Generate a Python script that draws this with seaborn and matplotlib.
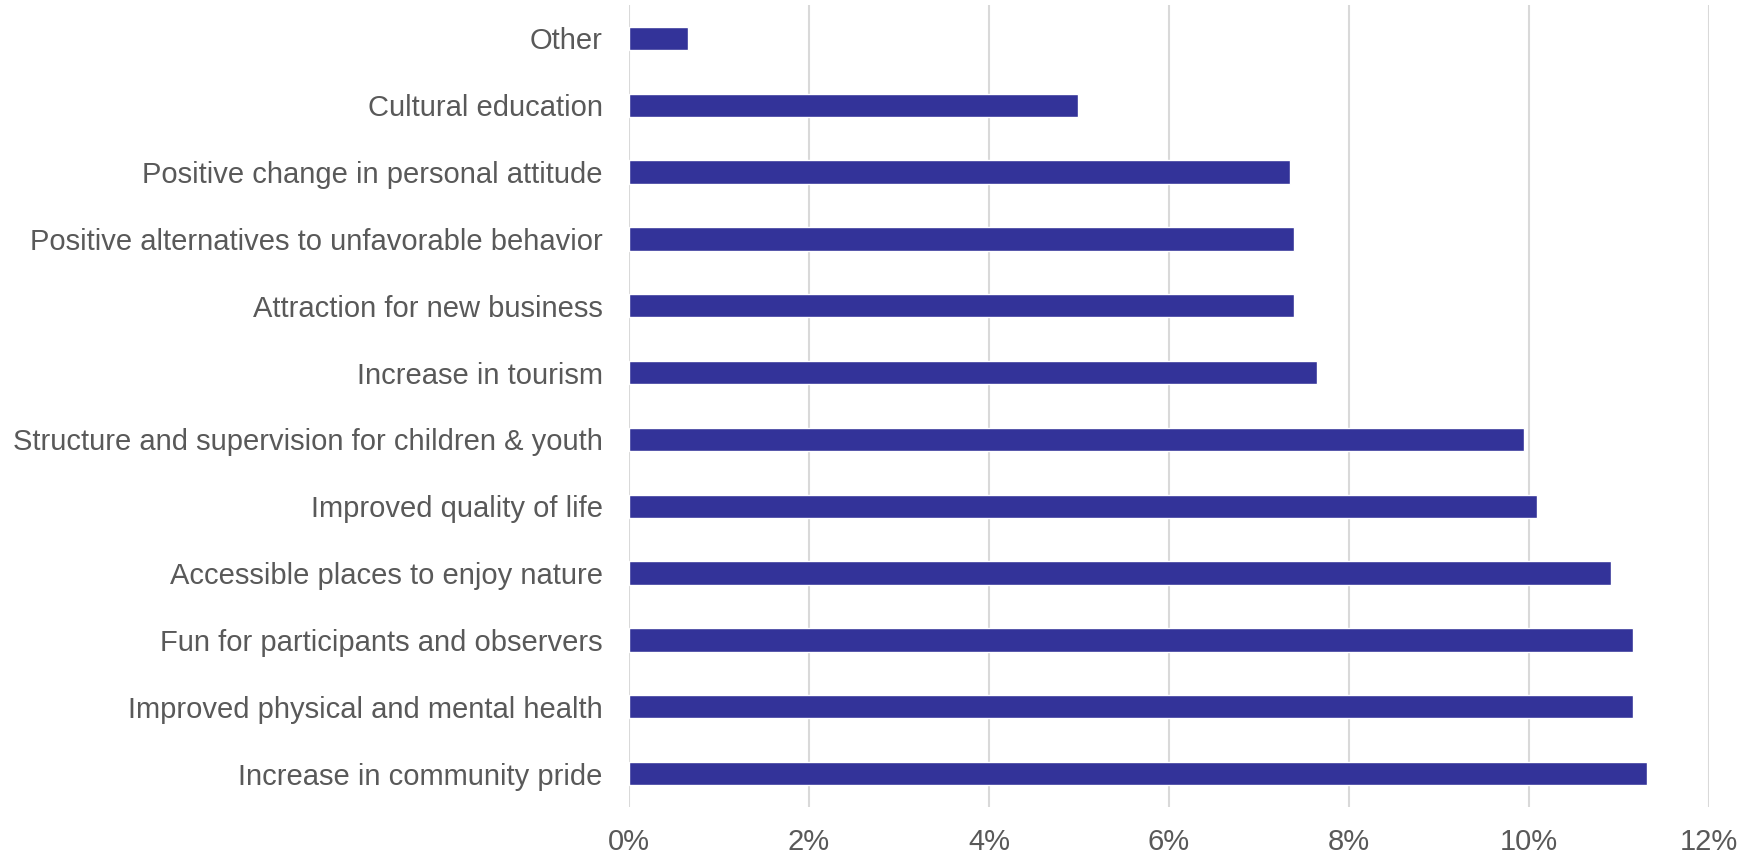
import pandas as pd
import matplotlib.pyplot as plt
import seaborn as sns

# Benefits, top to bottom as shown
categories = [
    "Other",
    "Cultural education",
    "Positive change in personal attitude",
    "Positive alternatives to unfavorable behavior",
    "Attraction for new business",
    "Increase in tourism",
    "Structure and supervision for children & youth",
    "Improved quality of life",
    "Accessible places to enjoy nature",
    "Fun for participants and observers",
    "Improved physical and mental health",
    "Increase in community pride",
]
percent = [0.66, 4.99, 7.34, 7.39, 7.39, 7.64, 9.94, 10.09, 10.91, 11.16, 11.16, 11.31]
x_ticks = [0, 2, 4, 6, 8, 10, 12]
x_tick_labels = [f"{t}%" for t in x_ticks]

df = pd.DataFrame({"Benefit": categories, "Percent": percent})

sns.set_style("white")
plt.rcParams['font.family'] = ['Liberation Sans', 'DejaVu Sans']

text_color = "#595959"
bar_color = "#333399"

fig = plt.figure(figsize=(17.52, 8.55), dpi=100)
ax = fig.add_axes([0.359, 0.0561, 0.6165, 0.9381])

sns.barplot(data=df, x="Percent", y="Benefit", orient="h", color=bar_color,
            saturation=1, width=0.35, ax=ax, zorder=3)

ax.set_xlim(0, 12)
ax.set_xticks(x_ticks)
ax.set_xticklabels(x_tick_labels)
ax.set_xlabel("")
ax.set_ylabel("")

ax.grid(axis="x", color="#d9d9d9", linewidth=1.5, zorder=0)
ax.grid(axis="y", visible=False)
ax.set_axisbelow(True)
for s in ax.spines.values():
    s.set_visible(False)

ax.tick_params(axis="y", length=0, pad=19, labelsize=21, labelcolor=text_color)
ax.tick_params(axis="x", length=0, pad=15, labelsize=21, labelcolor=text_color)

fig.savefig("out.png", dpi=100, facecolor="white")
